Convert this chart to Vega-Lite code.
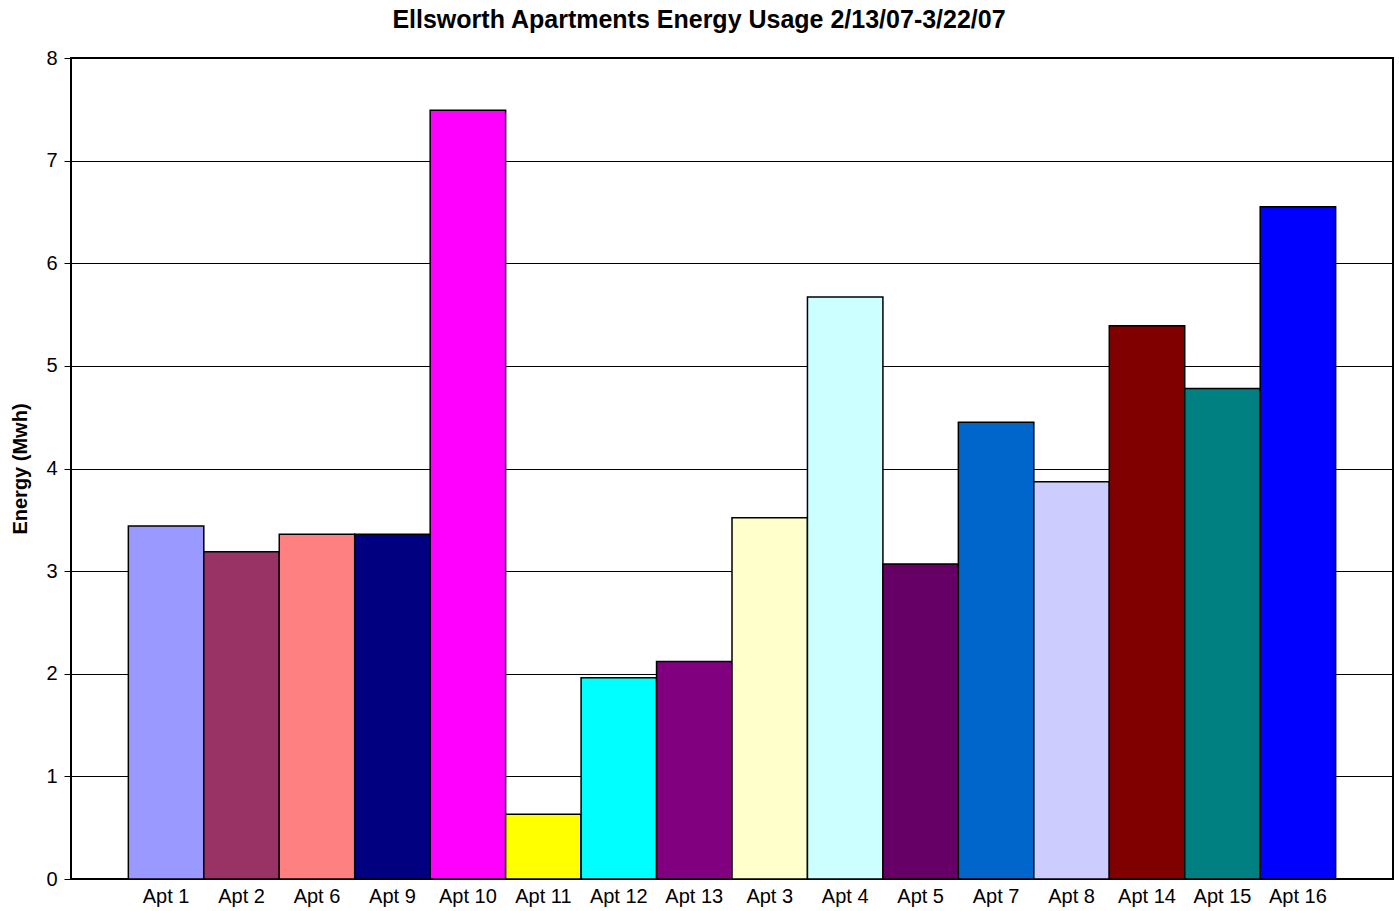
{
  "$schema": "https://vega.github.io/schema/vega-lite/v6.json",
  "autosize": "none",
  "width": 1322,
  "height": 821,
  "padding": {"left": 71, "top": 58, "right": 6, "bottom": 32},
  "background": "white",
  "title": {
    "text": "Ellsworth Apartments Energy Usage 2/13/07-3/22/07",
    "font": "Liberation Sans",
    "fontSize": 25,
    "fontWeight": "bold",
    "color": "black",
    "anchor": "middle",
    "dx": -33,
    "offset": 15
  },
  "data": {
    "values": [
      {"apt": "Apt 1", "energy": 3.44, "color": "#9999FF"},
      {"apt": "Apt 2", "energy": 3.19, "color": "#993366"},
      {"apt": "Apt 6", "energy": 3.36, "color": "#FF8080"},
      {"apt": "Apt 9", "energy": 3.36, "color": "#000080"},
      {"apt": "Apt 10", "energy": 7.49, "color": "#FF00FF"},
      {"apt": "Apt 11", "energy": 0.63, "color": "#FFFF00"},
      {"apt": "Apt 12", "energy": 1.96, "color": "#00FFFF"},
      {"apt": "Apt 13", "energy": 2.12, "color": "#800080"},
      {"apt": "Apt 3", "energy": 3.52, "color": "#FFFFCC"},
      {"apt": "Apt 4", "energy": 5.67, "color": "#CCFFFF"},
      {"apt": "Apt 5", "energy": 3.07, "color": "#660066"},
      {"apt": "Apt 7", "energy": 4.45, "color": "#0066CC"},
      {"apt": "Apt 8", "energy": 3.87, "color": "#CCCCFF"},
      {"apt": "Apt 14", "energy": 5.39, "color": "#800000"},
      {"apt": "Apt 15", "energy": 4.78, "color": "#008080"},
      {"apt": "Apt 16", "energy": 6.55, "color": "#0000FF"}
    ]
  },
  "mark": {"type": "bar", "stroke": "black", "strokeWidth": 1.5},
  "encoding": {
    "x": {
      "field": "apt",
      "type": "nominal",
      "sort": null,
      "scale": {"paddingInner": 0, "paddingOuter": 0.76},
      "axis": {
        "title": null,
        "labelAngle": 0,
        "labelFont": "Liberation Sans",
        "labelFontSize": 20,
        "labelColor": "black",
        "labelPadding": 7,
        "ticks": false,
        "domain": false,
        "grid": false
      }
    },
    "y": {
      "field": "energy",
      "type": "quantitative",
      "scale": {"domain": [0, 8], "nice": false},
      "axis": {
        "title": "Energy (Mwh)",
        "titleFont": "Liberation Sans",
        "titleFontSize": 20,
        "titleFontWeight": "bold",
        "titleColor": "black",
        "titlePadding": 15,
        "values": [0, 1, 2, 3, 4, 5, 6, 7, 8],
        "labelFont": "Liberation Sans",
        "labelFontSize": 20,
        "labelColor": "black",
        "labelPadding": 7,
        "tickSize": 7,
        "tickColor": "black",
        "tickWidth": 1,
        "domain": false,
        "grid": true,
        "gridColor": "black",
        "gridWidth": 1,
        "gridOpacity": 1
      }
    },
    "fill": {"field": "color", "type": "nominal", "scale": null, "legend": null}
  },
  "config": {
    "view": {"stroke": "black", "strokeWidth": 2}
  }
}
